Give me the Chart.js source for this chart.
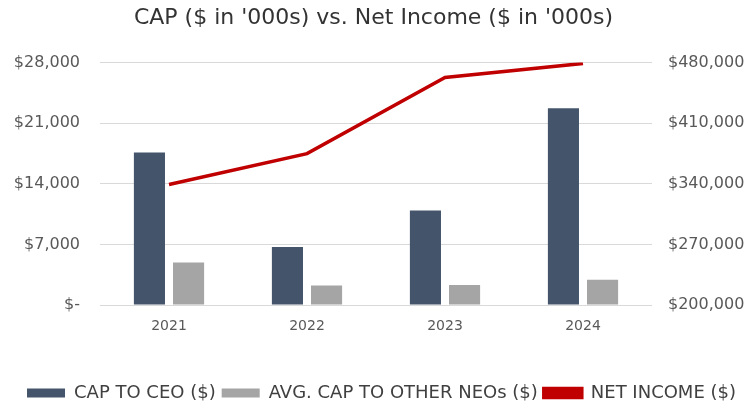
<!DOCTYPE html>
<html>
<head>
<meta charset="utf-8">
<script src="https://cdn.jsdelivr.net/npm/chart.js@4/dist/chart.umd.min.js"></script>
<style>
  html, body { margin: 0; padding: 0; background: #ffffff; }
  #wrap { width: 747px; height: 407px; }
</style>
</head>
<body>
<div id="wrap"><canvas id="c" width="747" height="407"></canvas></div>
<script>
const years = ['2021', '2022', '2023', '2024'];
const capToCeo = [17600, 6700, 10900, 22700];
const avgCapOtherNeos = [4900, 2250, 2300, 2900];
const netIncome = [339000, 374700, 462600, 478800];
const leftTicks = [0, 7000, 14000, 21000, 28000];
const rightTicks = [200000, 270000, 340000, 410000, 480000];

const FONT = "'DejaVu Sans', 'Liberation Sans', Arial, sans-serif";
const fmt = v => v === 0 ? '$-' : '$' + v.toLocaleString('en-US');

const shiftLegend = {
  id: 'shiftLegend',
  afterLayout(chart) {
    const lg = chart.legend;
    if (lg) { lg.left += 8; lg.right += 8; lg.top += 5; lg.bottom += 5; }
  }
};

new Chart(document.getElementById('c'), {
  data: {
    labels: years,
    datasets: [
      {
        type: 'line', label: 'NET INCOME ($)', data: netIncome, yAxisID: 'y2',
        borderColor: '#c00000', backgroundColor: '#c00000', borderWidth: 3.5,
        pointRadius: 0, tension: 0, order: 0
      },
      {
        type: 'bar', label: 'CAP TO CEO ($)', data: capToCeo, yAxisID: 'y',
        backgroundColor: '#44546a', categoryPercentage: 0.567, barPercentage: 0.795, order: 1
      },
      {
        type: 'bar', label: 'AVG. CAP TO OTHER NEOs ($)', data: avgCapOtherNeos, yAxisID: 'y',
        backgroundColor: '#a5a5a5', categoryPercentage: 0.567, barPercentage: 0.795, order: 2
      }
    ]
  },
  plugins: [shiftLegend],
  options: {
    responsive: false,
    animation: false,
    layout: { padding: 0 },
    plugins: {
      title: {
        display: true,
        text: "CAP ($ in '000s) vs. Net Income ($ in '000s)",
        color: '#333333',
        font: { family: FONT, size: 22, weight: 'normal' },
        padding: { top: 5, bottom: 31 }
      },
      legend: {
        position: 'bottom',
        labels: {
          color: '#404040',
          font: { family: FONT, size: 18 },
          boxWidth: 38, boxHeight: 9, padding: 6,
          sort: (a, b) => [1, 2, 0].indexOf(a.datasetIndex) - [1, 2, 0].indexOf(b.datasetIndex)
        }
      },
      tooltip: { enabled: false }
    },
    scales: {
      x: {
        grid: { display: false, drawTicks: false },
        border: { display: false },
        ticks: { color: '#595959', font: { family: FONT, size: 14 }, padding: 13 },
        afterFit: s => { s.height = 68; }
      },
      y: {
        position: 'left', min: 0, max: 28000,
        grid: { color: '#d9d9d9', drawTicks: false },
        border: { display: false },
        afterBuildTicks: s => { s.ticks = leftTicks.map(v => ({ value: v })); },
        ticks: { color: '#595959', font: { family: FONT, size: 16 }, padding: 20, callback: v => fmt(v) },
        afterFit: s => { s.width = 100; }
      },
      y2: {
        position: 'right', min: 200000, max: 480000,
        grid: { display: false, drawTicks: false },
        border: { display: false },
        afterBuildTicks: s => { s.ticks = rightTicks.map(v => ({ value: v })); },
        ticks: { color: '#595959', font: { family: FONT, size: 16 }, padding: 16, callback: v => fmt(v) },
        afterFit: s => { s.width = 95; }
      }
    }
  }
});
</script>
</body>
</html>
